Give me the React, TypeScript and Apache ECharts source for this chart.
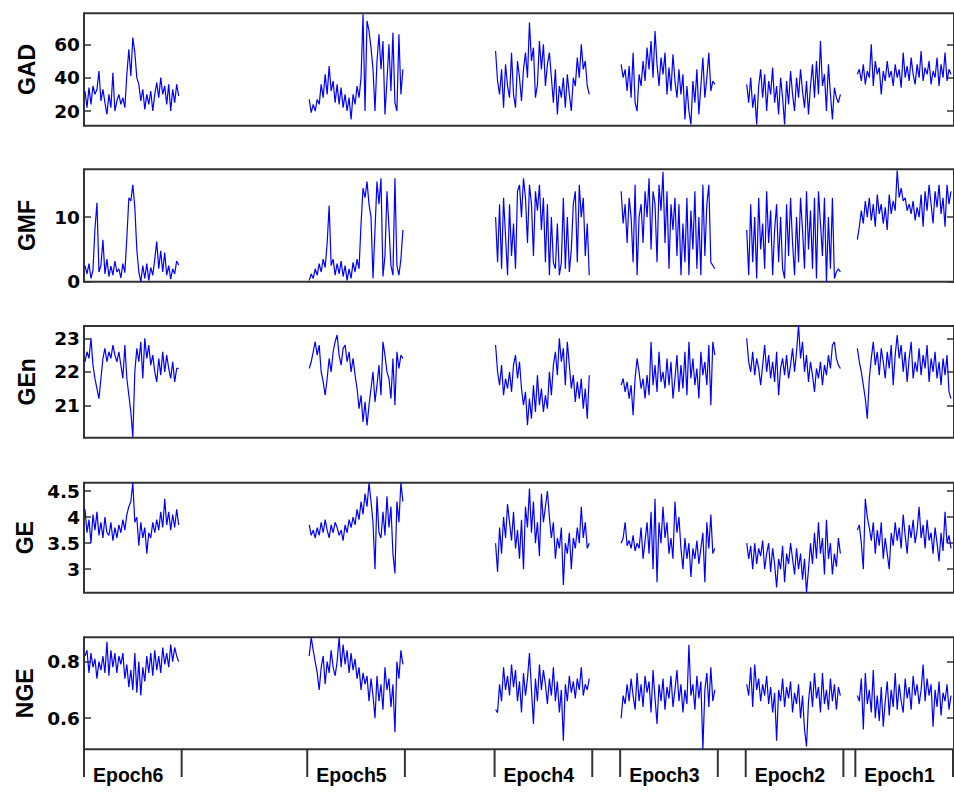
import React, { useEffect, useRef } from 'react';
import * as echarts from 'echarts';

// ---- layout-independent data ----
const METRICS = ['GAD', 'GMF', 'GEn', 'GE', 'NGE'];
const EPOCH_LABELS = ['Epoch6', 'Epoch5', 'Epoch4', 'Epoch3', 'Epoch2', 'Epoch1'];
// epoch segment bounds and first sample position (sample-axis units)
const EPOCH_BOUND_START = [0, 224, 412, 538, 664, 774];
const EPOCH_BOUND_END = [98, 322, 510, 636, 762, 872];
const EPOCH_DATA_START = [1, 226, 413, 539, 665, 776];
const SAMPLE_STEP = 2;
const X_MAX = 873;

const Y_MIN = [11.2, 0, 20.03, 2.55, 0.49];
const Y_MAX = [78.6, 17.4, 23.37, 4.66, 0.886];
const Y_TICKS = [[20, 40, 60], [0, 10], [21, 22, 23], [3, 3.5, 4, 4.5], [0.6, 0.8]];

// GAD
const GAD_E6 = [32,22,34,24,35,30,33,44,26,33,25,18,30,22,43,20,26,30,24,28,22,42,57,41,64,55,40,36,26,33,21,30,24,32,20,30,37,28,40,30,35,24,36,20,33,25,36,29];
const GAD_E5 = [27,19,24,20,27,24,36,28,42,30,47,32,38,25,36,24,34,22,30,20,28,15,30,24,35,28,40,78,20,74,68,58,45,20,50,66,45,62,18,38,60,32,67,25,20,66,30,45];
const GAD_E4 = [56,38,30,45,22,48,35,28,55,30,22,50,40,26,45,55,40,73,50,58,28,36,62,45,60,35,48,55,40,25,45,18,35,28,40,22,42,30,20,40,35,52,40,60,45,50,35,30];
const GAD_E3 = [48,40,45,32,47,28,55,25,20,42,35,50,38,58,45,62,40,68,48,35,52,42,55,30,46,32,54,38,28,45,30,42,15,35,20,12,38,25,45,18,35,52,28,40,55,32,38,36];
const GAD_E2 = [36,25,40,22,30,12,35,45,28,42,20,38,30,46,25,35,18,40,28,12,38,24,44,30,20,40,28,45,32,22,38,18,35,48,28,50,30,62,35,42,20,48,30,15,34,28,25,30];
const GAD_E1 = [42,45,38,48,36,44,40,60,35,50,42,46,30,44,38,50,40,44,35,48,40,45,34,55,40,47,38,52,42,36,48,40,56,38,46,42,50,36,44,40,52,35,48,40,55,38,45,42];

// GMF
const GMF_E6 = [2.5,1.2,2.8,0.5,1.8,8.2,12.2,1.5,2.5,6.5,1.2,3.5,0.8,2.4,1.0,3.2,1.5,2.0,0.6,2.8,1.4,6.8,13.0,12.5,15.0,11.5,5.0,1.5,0.0,2.5,0.5,2.8,0.2,2.2,1.0,3.5,6.2,2.0,4.8,1.5,4.5,1.0,2.5,0.4,2.0,1.2,3.2,2.6];
const GMF_E5 = [0.2,1.2,0.5,2.0,1.0,2.8,1.5,3.5,2.2,6.0,11.8,2.5,3.5,1.0,2.8,1.2,3.2,0.8,2.5,0.2,2.0,0.5,3.0,1.5,3.5,2.0,9.0,14.5,13.0,15.5,12.0,10.0,0.5,8.0,15.5,12.0,16.0,0.8,4.0,14.0,8.5,2.5,1.0,16.0,2.5,1.0,3.5,8.0];
const GMF_E4 = [10,3,12,2,13,7,1,12,4,9,2,14,15,10,16,13,6,15,12,4,14,11,15,8,13,3,12,1,10,3,2,9,1,3,13,2,10,1.5,5,12,14,3,15,10,13,4,9,1];
const GMF_E3 = [14,9,12,6,13,10,3,15,1,10,12,6,14,10,16,5,14,12,3,15,11,17,6,14,2,12,8,13,4,12,1,9,3,13,1,11,5,14,2,10,1,15,4,12,15,3,2.5,2.0];
const GMF_E2 = [8,1,12,3,10,0.5,13,5,9,2,14,6,11,1,8,12,3,10,2,0.5,12,4,13,6,1,10,3,13,8,2,14,5,11,2,13,0.5,14,9,4,13,0,10,2,13,0.5,1.5,2.0,1.5];
const GMF_E1 = [6.5,8.5,11,9,12.5,10,13,9.5,12,8.5,13.5,10.5,12,9,11.5,8,13.5,10.5,12.5,11,17.2,13,14.5,12.5,13,11,12,10.5,12.5,9.5,11.5,10,13.5,8.5,14,11,15,12,9,14,11.5,15,10.5,13,8.5,15,12,14];

// GEn
const GEN_E6 = [22.3,22.6,22.4,23.0,22.2,21.8,21.5,21.2,21.8,22.4,22.7,22.3,22.6,22.4,22.8,22.5,22.3,22.6,22.2,21.8,22.8,21.8,21.3,20.8,20.05,22.0,22.7,22.3,22.9,21.8,23.0,22.4,22.8,22.2,22.5,22.0,21.7,22.4,21.9,22.6,22.0,22.5,22.1,21.8,22.3,21.7,22.1,22.1];
const GEN_E5 = [22.1,22.3,22.6,22.9,22.5,22.8,22.0,21.7,21.3,21.8,22.4,22.0,22.6,22.9,23.1,22.5,22.2,22.7,22.8,22.3,22.6,22.0,22.4,21.9,21.5,20.9,21.3,20.5,21.1,20.4,21.0,21.5,22.0,21.1,21.6,22.2,21.3,22.9,22.5,22.0,21.8,21.2,22.4,21.0,22.6,22.1,22.5,22.4];
const GEN_E4 = [22.8,22.0,21.6,22.2,21.3,21.8,21.5,22.0,21.4,22.2,22.5,21.8,22.3,21.5,21.0,21.4,20.4,21.2,20.6,21.6,20.8,21.9,21.0,21.5,20.8,21.3,20.9,22.0,21.3,22.2,22.6,21.9,23.0,22.3,22.7,21.6,22.9,22.2,21.5,21.9,21.1,21.7,21.2,21.8,20.9,21.5,20.6,21.9];
const GEN_E3 = [21.6,21.8,21.4,21.7,21.2,21.6,20.7,21.8,22.4,22.0,21.5,21.8,21.2,21.9,21.3,22.9,21.6,22.2,21.4,22.6,21.7,22.0,21.5,22.4,21.6,22.3,21.2,21.8,22.5,21.4,22.2,21.5,22.6,21.3,22.9,21.8,22.4,21.6,22.1,21.2,22.6,21.9,22.3,21.6,22.8,21.0,22.9,22.5];
const GEN_E2 = [23.0,22.3,22.0,22.6,21.9,22.4,22.1,21.6,22.2,22.8,22.0,22.5,21.8,22.3,21.7,22.6,21.3,22.1,22.4,21.9,22.5,21.8,22.2,22.7,22.0,22.6,23.4,22.4,22.9,22.0,22.5,21.7,22.3,21.9,21.4,22.1,21.8,22.3,21.6,22.2,21.9,22.5,22.1,22.8,22.9,22.4,22.2,22.1];
const GEN_E1 = [22.7,22.3,22.0,21.6,21.2,20.6,21.8,22.4,22.9,22.2,22.6,21.9,22.7,22.3,21.8,22.6,22.1,22.8,21.6,22.5,23.1,22.4,22.8,22.0,22.6,21.7,22.4,22.9,21.8,22.3,22.0,22.7,21.9,22.5,22.1,22.8,21.7,22.4,22.0,22.6,21.8,22.3,21.6,22.4,21.9,22.5,21.4,21.2];

// GE
const GE_E6 = [4.15,3.7,3.95,3.5,4.05,3.75,4.1,3.65,3.9,3.6,4.0,3.7,3.65,3.9,3.55,3.8,3.6,3.85,3.7,3.95,3.75,4.05,4.2,4.3,4.66,3.9,4.0,3.45,3.9,3.6,3.8,3.3,3.7,3.6,3.9,3.7,3.95,3.75,4.1,3.8,4.35,3.85,4.1,3.75,4.05,3.8,4.15,3.85];
const GE_E5 = [3.85,3.65,3.75,3.6,3.8,3.65,3.9,3.7,3.95,3.75,3.6,3.85,3.7,3.9,3.8,3.65,3.75,3.55,3.85,3.7,3.95,3.8,4.0,3.85,4.15,3.95,4.3,4.05,4.45,4.2,4.66,4.3,3.9,3.0,4.4,3.7,3.6,4.1,3.65,4.4,3.8,4.2,3.3,2.92,4.3,3.9,4.66,4.3];
const GE_E4 = [3.5,2.95,3.8,3.3,4.0,3.6,4.25,3.9,3.55,4.1,3.4,3.75,3.2,3.95,3.0,4.2,3.8,4.55,3.7,4.3,3.5,3.9,3.25,4.45,3.9,4.2,4.5,4.0,3.6,3.9,3.2,3.6,3.4,3.8,2.7,3.5,3.3,3.7,3.0,3.6,3.4,3.8,3.5,4.2,3.6,3.9,3.4,3.5];
const GE_E3 = [3.5,3.6,3.9,3.45,3.55,3.4,3.65,3.35,3.5,3.4,3.8,3.2,3.55,3.9,3.3,4.1,3.0,4.35,2.75,3.9,3.5,4.2,3.6,3.9,3.3,3.6,3.2,4.3,3.7,4.0,3.4,3.0,3.6,3.2,3.5,2.85,3.4,3.2,3.55,3.1,3.4,3.7,2.75,3.9,3.4,4.05,3.3,3.4];
const GE_E2 = [3.5,3.2,3.45,3.0,3.5,3.1,3.4,3.25,3.55,3.0,3.3,3.5,2.95,3.4,3.1,2.65,3.2,3.0,3.45,2.75,3.3,3.1,3.5,3.2,2.9,3.4,3.0,3.3,2.8,3.2,2.55,3.0,3.5,3.1,3.7,3.2,3.9,3.3,3.6,2.9,3.95,3.2,3.5,2.9,3.3,3.05,3.6,3.3];
const GE_E1 = [3.75,3.85,3.5,3.0,4.35,4.0,3.8,3.55,3.9,3.3,3.75,3.45,3.9,3.2,3.6,3.3,3.0,3.7,3.45,3.9,3.55,3.8,3.4,4.05,3.65,3.3,3.85,3.6,3.95,3.5,3.75,4.2,3.6,3.85,3.4,3.95,3.55,3.7,3.3,3.8,3.5,3.15,3.7,3.35,4.1,3.5,3.65,3.4];

// NGE
const NGE_E6 = [0.82,0.84,0.76,0.83,0.78,0.81,0.74,0.80,0.77,0.82,0.76,0.87,0.75,0.84,0.78,0.83,0.76,0.82,0.79,0.83,0.74,0.79,0.71,0.77,0.70,0.83,0.69,0.80,0.68,0.78,0.73,0.82,0.76,0.83,0.75,0.84,0.77,0.82,0.76,0.85,0.79,0.83,0.78,0.86,0.80,0.85,0.82,0.80];
const NGE_E5 = [0.82,0.886,0.84,0.80,0.76,0.70,0.78,0.82,0.72,0.80,0.76,0.84,0.78,0.75,0.80,0.886,0.78,0.86,0.79,0.84,0.76,0.83,0.77,0.81,0.74,0.78,0.70,0.76,0.72,0.75,0.66,0.74,0.68,0.60,0.75,0.66,0.72,0.63,0.78,0.70,0.74,0.64,0.72,0.55,0.80,0.74,0.84,0.79];
const NGE_E4 = [0.63,0.62,0.72,0.66,0.78,0.70,0.75,0.68,0.79,0.71,0.77,0.66,0.73,0.62,0.76,0.68,0.74,0.83,0.70,0.58,0.74,0.66,0.79,0.70,0.77,0.72,0.65,0.74,0.68,0.78,0.66,0.73,0.62,0.70,0.52,0.72,0.66,0.75,0.69,0.73,0.67,0.74,0.70,0.78,0.68,0.72,0.70,0.74];
const NGE_E3 = [0.60,0.68,0.65,0.72,0.66,0.74,0.68,0.63,0.76,0.66,0.72,0.64,0.75,0.69,0.73,0.62,0.77,0.67,0.58,0.72,0.66,0.74,0.63,0.71,0.67,0.75,0.64,0.70,0.77,0.66,0.72,0.62,0.70,0.65,0.86,0.68,0.72,0.63,0.75,0.67,0.73,0.49,0.70,0.76,0.64,0.78,0.66,0.70];
const NGE_E2 = [0.72,0.68,0.78,0.64,0.79,0.70,0.74,0.66,0.72,0.68,0.75,0.65,0.71,0.62,0.69,0.52,0.70,0.66,0.74,0.64,0.71,0.67,0.73,0.62,0.69,0.65,0.72,0.60,0.68,0.56,0.50,0.66,0.73,0.64,0.76,0.67,0.71,0.62,0.76,0.65,0.70,0.63,0.74,0.66,0.72,0.63,0.71,0.68];
const NGE_E1 = [0.68,0.66,0.74,0.56,0.76,0.65,0.70,0.62,0.77,0.60,0.68,0.59,0.71,0.57,0.66,0.73,0.61,0.70,0.64,0.76,0.63,0.72,0.66,0.62,0.74,0.67,0.71,0.63,0.75,0.68,0.72,0.65,0.70,0.79,0.66,0.74,0.68,0.72,0.57,0.70,0.64,0.73,0.61,0.69,0.66,0.72,0.63,0.68];

const SERIES_BY_METRIC = [
  [GAD_E6, GAD_E5, GAD_E4, GAD_E3, GAD_E2, GAD_E1],
  [GMF_E6, GMF_E5, GMF_E4, GMF_E3, GMF_E2, GMF_E1],
  [GEN_E6, GEN_E5, GEN_E4, GEN_E3, GEN_E2, GEN_E1],
  [GE_E6, GE_E5, GE_E4, GE_E3, GE_E2, GE_E1],
  [NGE_E6, NGE_E5, NGE_E4, NGE_E3, NGE_E2, NGE_E1],
];

// ---- styling / layout ----
const GRID_LEFT = 84;
const GRID_RIGHT = -3;
const GRID_TOPS = [13.3, 169.3, 326, 482.7, 637.3];
const GRID_HEIGHTS = [112.4, 112.4, 111.7, 110, 112];
const LINE_BLUE = '#0000ff';
const FRAME = '#333333';
const TICK_FONT = { fontFamily: 'DejaVu Sans', fontSize: 18.5, fontWeight: 'bold' as const, color: '#000' };
const NAME_FONT = { fontFamily: 'Liberation Sans', fontSize: 23, fontWeight: 'bold' as const, color: '#000' };

function buildOption() {
  const grid: any[] = [];
  const xAxis: any[] = [];
  const yAxis: any[] = [];
  const series: any[] = [];

  METRICS.forEach((name, m) => {
    grid.push({
      left: GRID_LEFT, right: GRID_RIGHT, top: GRID_TOPS[m], height: GRID_HEIGHTS[m],
      show: true, borderColor: FRAME, borderWidth: 2, backgroundColor: 'transparent',
    });
    xAxis.push({
      type: 'value', gridIndex: m, min: 0, max: X_MAX,
      show: false,
    });
    const common = {
      type: 'value', gridIndex: m, min: Y_MIN[m], max: Y_MAX[m],
      splitLine: { show: false }, axisLine: { show: false },
      axisTick: { show: true, inside: true, length: 7, customValues: Y_TICKS[m], lineStyle: { color: FRAME, width: 1.5 } },
    };
    yAxis.push({
      ...common, position: 'left',
      name, nameLocation: 'middle', nameGap: 46, nameRotate: 90, nameTextStyle: NAME_FONT,
      axisLabel: { show: true, customValues: Y_TICKS[m], margin: 4, ...TICK_FONT },
    });
    yAxis.push({
      ...common, position: 'right',
      axisLabel: { show: false },
    });
    SERIES_BY_METRIC[m].forEach((vals, e) => {
      series.push({
        type: 'line', xAxisIndex: m, yAxisIndex: m * 2,
        data: vals.map((v, i) => [EPOCH_DATA_START[e] + i * SAMPLE_STEP, v]),
        showSymbol: false, symbol: 'none',
        lineStyle: { color: LINE_BLUE, width: 1.2 },
        clip: true, silent: true,
      });
    });
  });

  // epoch bracket row
  const gi = METRICS.length;
  grid.push({ left: GRID_LEFT, right: GRID_RIGHT, top: 749, height: 28, show: false });
  xAxis.push({ type: 'value', gridIndex: gi, min: 0, max: X_MAX, show: false });
  yAxis.push({ type: 'value', gridIndex: gi, min: 0, max: 1, show: false });
  series.push({
    type: 'custom', xAxisIndex: gi, yAxisIndex: yAxis.length - 1, silent: true, clip: false,
    data: EPOCH_LABELS.map((_, i) => [EPOCH_BOUND_START[i], EPOCH_BOUND_END[i]]),
    renderItem: (params: any, api: any) => {
      const lTop = api.coord([api.value(0), 1]);
      const lBot = api.coord([api.value(0), 0]);
      const rTop = api.coord([api.value(1), 1]);
      const rBot = api.coord([api.value(1), 0]);
      const ls = { stroke: FRAME, lineWidth: 2 };
      return {
        type: 'group',
        children: [
          { type: 'line', shape: { x1: lTop[0], y1: lTop[1], x2: lBot[0], y2: lBot[1] }, style: ls },
          { type: 'line', shape: { x1: rTop[0], y1: rTop[1], x2: rBot[0], y2: rBot[1] }, style: ls },
          {
            type: 'text',
            style: {
              text: EPOCH_LABELS[params.dataIndex],
              x: lTop[0] + 9, y: (lTop[1] + lBot[1]) / 2 + 12,
              verticalAlign: 'middle', align: 'left',
              font: 'bold 19.5px "Liberation Sans", Arial, sans-serif', fill: '#000',
            },
          },
        ],
      };
    },
  });

  return { animation: false, backgroundColor: '#ffffff', grid, xAxis, yAxis, series };
}

export default function App() {
  const ref = useRef<HTMLDivElement>(null);
  useEffect(() => {
    document.body.style.margin = '0';
    const chart = echarts.init(ref.current!, undefined, { renderer: 'svg' });
    chart.setOption(buildOption() as any);
    return () => chart.dispose();
  }, []);
  return <div ref={ref} style={{ width: 954, height: 796 }} />;
}
